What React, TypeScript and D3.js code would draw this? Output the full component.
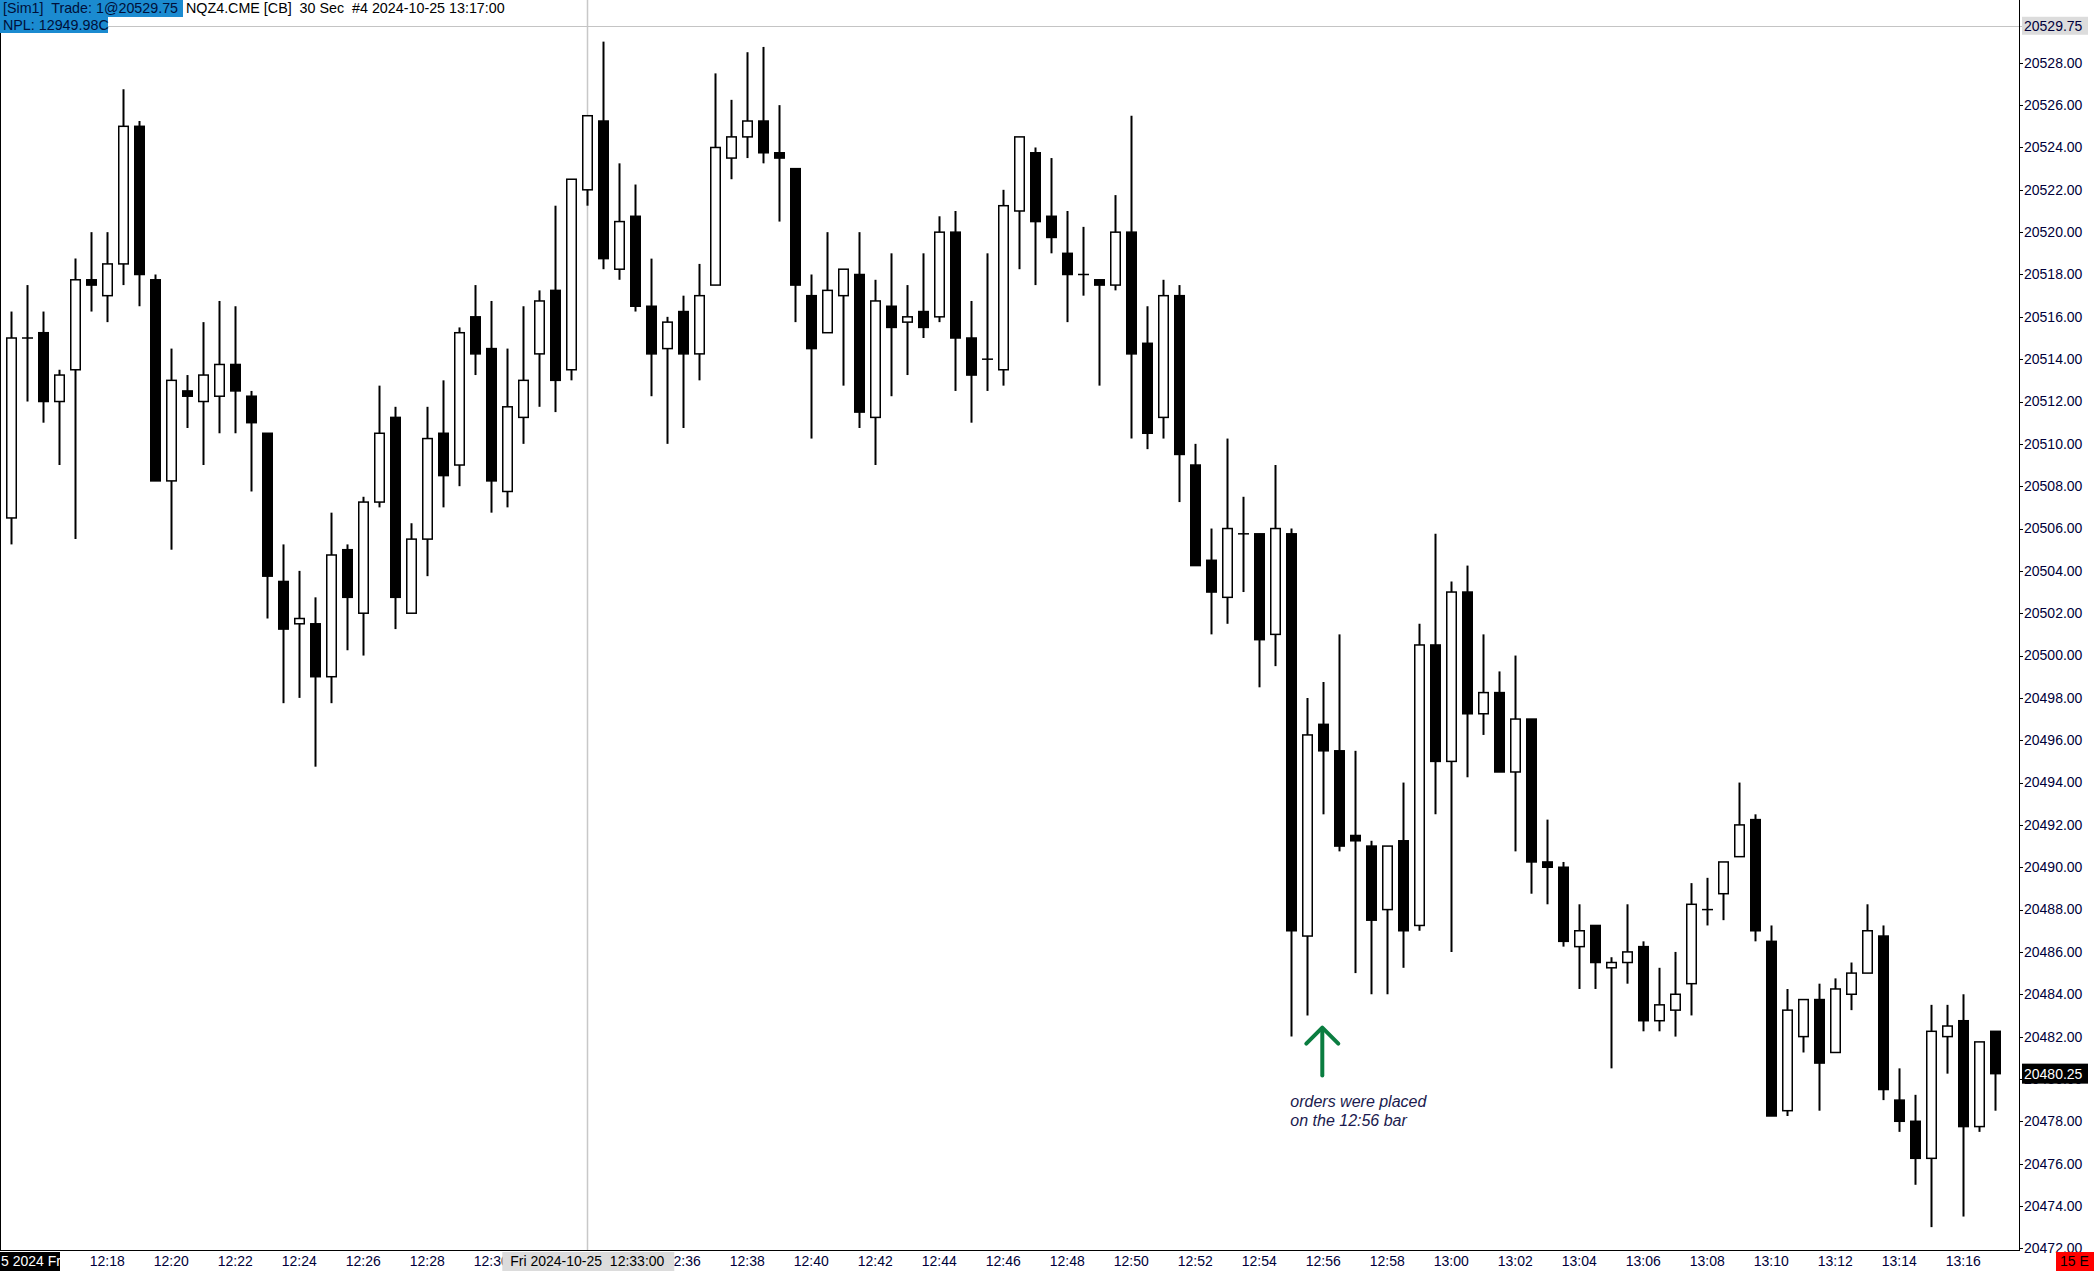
import React from "react";
import * as d3 from "d3";

// ---- data (30 sec bars, NQZ4, 12:15:00 .. 13:17:00) ----
const OPEN = [
  20506.5, 20515.0, 20515.25, 20512.0, 20513.5, 20517.75, 20517.0, 20518.5, 20525.0, 20517.75,
  20508.25, 20512.5, 20512.0, 20512.25, 20513.75, 20512.25, 20510.5, 20503.5, 20501.5, 20501.5,
  20499.0, 20505.0, 20502.0, 20507.25, 20511.25, 20502.0, 20505.5, 20510.5, 20509.0, 20516.0,
  20514.5, 20507.75, 20511.25, 20514.25, 20517.25, 20513.5, 20522.0, 20525.25, 20518.25, 20520.75,
  20516.5, 20514.5, 20516.25, 20514.25, 20517.5, 20523.5, 20524.5, 20525.25, 20523.75, 20523.0,
  20517.0, 20515.25, 20517.0, 20518.0, 20511.25, 20516.5, 20515.75, 20516.25, 20516.0, 20520.0,
  20515.0, 20514.0, 20513.5, 20521.0, 20523.75, 20520.75, 20519.0, 20518.0, 20517.75, 20517.5,
  20520.0, 20514.75, 20511.25, 20517.0, 20509.0, 20504.5, 20502.75, 20505.75, 20505.75, 20501.0,
  20505.75, 20486.75, 20496.75, 20495.5, 20491.5, 20491.0, 20488.0, 20491.25, 20487.25, 20500.5,
  20495.0, 20503.0, 20497.25, 20498.25, 20494.5, 20497.0, 20490.25, 20490.0, 20486.25, 20487.25,
  20485.25, 20485.5, 20486.25, 20482.75, 20483.25, 20484.5, 20488.0, 20488.75, 20490.5, 20492.25,
  20486.5, 20478.5, 20482.0, 20483.75, 20481.25, 20484.0, 20485.0, 20486.75, 20479.0, 20478.0,
  20476.25, 20482.0, 20482.75, 20477.75, 20482.25,
];
const HIGH = [
  20516.25, 20517.5, 20516.25, 20513.5, 20518.75, 20520.0, 20520.0, 20526.75, 20525.25, 20518.0,
  20514.5, 20513.25, 20515.75, 20516.75, 20516.5, 20512.5, 20510.5, 20505.25, 20504.0, 20502.75,
  20506.75, 20505.25, 20507.5, 20512.75, 20511.75, 20506.25, 20511.75, 20513.0, 20515.5, 20517.5,
  20516.75, 20514.5, 20516.5, 20517.25, 20521.25, 20522.5, 20525.5, 20529.0, 20523.25, 20522.25,
  20518.75, 20516.0, 20517.0, 20518.5, 20527.5, 20526.25, 20528.5, 20528.75, 20526.0, 20523.0,
  20518.0, 20520.0, 20518.25, 20520.0, 20517.75, 20519.0, 20517.5, 20519.0, 20520.75, 20521.0,
  20516.75, 20519.0, 20522.0, 20524.5, 20524.0, 20523.5, 20521.0, 20520.25, 20517.75, 20521.75,
  20525.5, 20516.5, 20517.75, 20517.5, 20510.0, 20506.0, 20510.25, 20507.5, 20505.75, 20509.0,
  20506.0, 20498.0, 20498.75, 20501.0, 20495.5, 20491.25, 20491.0, 20494.0, 20501.5, 20505.75,
  20503.5, 20504.25, 20501.0, 20499.25, 20500.0, 20497.0, 20492.25, 20490.25, 20488.25, 20487.25,
  20485.75, 20488.25, 20486.5, 20485.25, 20486.0, 20489.25, 20489.5, 20490.25, 20494.0, 20492.5,
  20487.25, 20484.25, 20483.75, 20484.5, 20484.75, 20485.5, 20488.25, 20487.25, 20480.5, 20479.25,
  20483.5, 20483.5, 20484.0, 20481.75, 20482.25,
];
const LOW = [
  20505.25, 20512.0, 20511.0, 20509.0, 20505.5, 20516.25, 20515.75, 20517.5, 20516.5, 20508.25,
  20505.0, 20510.75, 20509.0, 20510.5, 20510.5, 20507.75, 20501.75, 20497.75, 20498.0, 20494.75,
  20497.75, 20500.25, 20500.0, 20507.0, 20501.25, 20502.0, 20503.75, 20507.0, 20508.0, 20513.25,
  20506.75, 20507.0, 20510.0, 20511.75, 20511.5, 20513.0, 20521.25, 20518.25, 20517.75, 20516.25,
  20512.25, 20510.0, 20510.75, 20513.0, 20517.5, 20522.5, 20523.5, 20523.25, 20520.5, 20515.75,
  20510.25, 20515.25, 20512.75, 20510.75, 20509.0, 20512.25, 20513.25, 20515.0, 20515.75, 20512.5,
  20511.0, 20512.5, 20512.75, 20518.25, 20517.5, 20519.0, 20515.75, 20517.0, 20512.75, 20517.25,
  20510.25, 20509.75, 20510.25, 20507.25, 20504.25, 20501.0, 20501.5, 20503.0, 20498.5, 20499.5,
  20482.0, 20483.0, 20492.5, 20490.75, 20485.0, 20484.0, 20484.0, 20485.25, 20487.0, 20492.5,
  20486.0, 20494.25, 20496.25, 20494.5, 20490.75, 20488.75, 20488.25, 20486.25, 20484.25, 20484.25,
  20480.5, 20484.5, 20482.25, 20482.25, 20482.0, 20483.0, 20487.25, 20487.5, 20490.5, 20486.5,
  20478.25, 20478.25, 20481.25, 20478.5, 20481.25, 20483.25, 20485.0, 20479.0, 20477.5, 20475.0,
  20473.0, 20480.25, 20473.5, 20477.5, 20478.5,
];
const CLOSE = [
  20515.0, 20515.0, 20512.0, 20513.25, 20517.75, 20517.5, 20518.5, 20525.0, 20518.0, 20508.25,
  20513.0, 20512.25, 20513.25, 20513.75, 20512.5, 20511.0, 20503.75, 20501.25, 20501.75, 20499.0,
  20504.75, 20502.75, 20507.25, 20510.5, 20502.75, 20505.5, 20510.25, 20508.5, 20515.25, 20514.25,
  20508.25, 20511.75, 20513.0, 20516.75, 20513.0, 20522.5, 20525.5, 20518.75, 20520.5, 20516.5,
  20514.25, 20515.75, 20514.25, 20517.0, 20524.0, 20524.5, 20525.25, 20523.75, 20523.5, 20517.5,
  20514.5, 20517.25, 20518.25, 20511.5, 20516.75, 20515.5, 20516.0, 20515.5, 20520.0, 20515.0,
  20513.25, 20514.0, 20521.25, 20524.5, 20520.5, 20519.75, 20518.0, 20518.0, 20517.5, 20520.0,
  20514.25, 20510.5, 20517.0, 20509.5, 20504.25, 20503.0, 20506.0, 20505.75, 20500.75, 20506.0,
  20487.0, 20496.25, 20495.5, 20491.0, 20491.25, 20487.5, 20491.0, 20487.0, 20500.5, 20495.0,
  20503.0, 20497.25, 20498.25, 20494.5, 20497.0, 20490.25, 20490.0, 20486.5, 20487.0, 20485.5,
  20485.5, 20486.0, 20482.75, 20483.5, 20484.0, 20488.25, 20488.0, 20490.25, 20492.0, 20487.0,
  20478.25, 20483.25, 20483.75, 20480.75, 20484.25, 20485.0, 20487.0, 20479.5, 20478.0, 20476.25,
  20482.25, 20482.5, 20477.75, 20481.75, 20480.25,
];

const TIME_LABELS = [
  "12:18", "12:20", "12:22", "12:24", "12:26", "12:28", "12:30", "12:32", "12:34", "12:36",
  "12:38", "12:40", "12:42", "12:44", "12:46", "12:48", "12:50", "12:52", "12:54", "12:56",
  "12:58", "13:00", "13:02", "13:04", "13:06", "13:08", "13:10", "13:12", "13:14", "13:16",
];
const TIME_LABEL_BARS = TIME_LABELS.map((_, k) => 6 + 4 * k);
const PRICE_TICKS = d3.range(20472, 20529, 2);
const LAST_TRADE = 20529.75;
const LAST_PRICE = 20480.25;
const CROSSHAIR_BAR = 36;
const CROSSHAIR_LABEL = "Fri 2024-10-25  12:33:00";
const HEADER_1A = "[Sim1]  Trade: 1@20529.75";
const HEADER_1B = "NQZ4.CME [CB]  30 Sec  #4 2024-10-25 13:17:00";
const HEADER_2 = "NPL: 12949.98C";
const NOTE_BAR = 82;
const NOTE_LINES = ["orders were placed", "on the 12:56 bar"];

const W = 2094;
const H = 1271;
const AXIS_X = 2019;
const PLOT_BOTTOM = 1250;
const FONT = "Arial, 'Liberation Sans', sans-serif";
const LABEL_COLOR = "#00003a";

export default function App() {
  const n = OPEN.length;
  const x = d3.scaleLinear().domain([0, n - 1]).range([11.3, 11.3 + 16 * (n - 1)]);
  const y = d3.scaleLinear().domain([20528, 20472]).range([62.8, 1248.3]);
  const bw = 11;

  const fmt = d3.format(".2f");

  const candles = d3.range(n).map((i) => {
    const o = OPEN[i], c = CLOSE[i], h = HIGH[i], l = LOW[i];
    const cx = Math.round(x(i)) + 0.5;
    const top = y(Math.max(o, c));
    const bot = y(Math.min(o, c));
    const up = c > o;
    const flat = c === o;
    return (
      <g key={i}>
        <line x1={cx} x2={cx} y1={y(h)} y2={y(l)} stroke="#000" strokeWidth={2} />
        {flat ? (
          <line x1={cx - bw / 2} x2={cx + bw / 2} y1={top} y2={top} stroke="#000" strokeWidth={1.5} />
        ) : (
          <rect
            x={cx - bw / 2 + 0.75}
            y={top}
            width={bw - 1.5}
            height={Math.max(bot - top, 1)}
            fill={up ? "#fff" : "#000"}
            stroke="#000"
            strokeWidth={1.5}
          />
        )}
      </g>
    );
  });

  const nx = x(NOTE_BAR) - 1;
  const noteTop = y(LOW[NOTE_BAR - 2]) - 10;

  return (
    <svg
      width={W}
      height={H}
      viewBox={`0 0 ${W} ${H}`}
      style={{ position: "fixed", left: 0, top: 0, background: "#fff" }}
      fontFamily={FONT}
    >
      <rect x={0} y={0} width={W} height={H} fill="#fff" />
      {/* crosshair vertical */}
      <line x1={Math.round(x(CROSSHAIR_BAR)) + 0.5} x2={Math.round(x(CROSSHAIR_BAR)) + 0.5} y1={0} y2={PLOT_BOTTOM} stroke="#c8c8c8" strokeWidth={1.5} />
      {/* last trade line */}
      <line x1={0} x2={AXIS_X + 4} y1={Math.round(y(LAST_TRADE)) + 0.5} y2={Math.round(y(LAST_TRADE)) + 0.5} stroke="#c4c4c4" strokeWidth={1} />

      {candles}

      {/* annotation */}
      <g stroke="#0a7d40" strokeWidth={4} fill="none" strokeLinecap="round" strokeLinejoin="round">
        <line x1={nx} x2={nx} y1={noteTop + 49} y2={noteTop + 2} />
        <polyline points={`${nx - 16},${noteTop + 17} ${nx},${noteTop + 1} ${nx + 16},${noteTop + 17}`} />
      </g>
      {NOTE_LINES.map((t, k) => (
        <text key={t} x={nx - 32} y={noteTop + 80 + k * 19} fontSize={16} fontStyle="italic" fill="#1a1a4e">
          {t}
        </text>
      ))}

      {/* frame */}
      <line x1={0.5} x2={0.5} y1={0} y2={PLOT_BOTTOM} stroke="#000" strokeWidth={1} />
      <line x1={0} x2={AXIS_X} y1={PLOT_BOTTOM + 0.5} y2={PLOT_BOTTOM + 0.5} stroke="#000" strokeWidth={1} />
      <line x1={AXIS_X + 0.5} x2={AXIS_X + 0.5} y1={0} y2={PLOT_BOTTOM + 1} stroke="#000" strokeWidth={1} />

      {/* price axis */}
      {PRICE_TICKS.map((p) => (
        <g key={p}>
          <line x1={AXIS_X} x2={AXIS_X + 4} y1={Math.round(y(p)) + 0.5} y2={Math.round(y(p)) + 0.5} stroke="#000" />
          <text x={AXIS_X + 5} y={y(p)} dy="0.35em" fontSize={14} fill={LABEL_COLOR}>
            {fmt(p)}
          </text>
        </g>
      ))}
      <rect x={AXIS_X + 3} y={y(LAST_TRADE) - 9} width={66} height={18} fill="#dcdcdc" />
      <text x={AXIS_X + 5} y={y(LAST_TRADE)} dy="0.35em" fontSize={14} fill={LABEL_COLOR}>
        {fmt(LAST_TRADE)}
      </text>
      <rect x={AXIS_X + 3} y={y(LAST_PRICE) - 10} width={66} height={20} fill="#000" />
      <text x={AXIS_X + 5} y={y(LAST_PRICE)} dy="0.35em" fontSize={14} fill="#fff">
        {fmt(LAST_PRICE)}
      </text>

      {/* time axis */}
      {TIME_LABELS.map((t, k) => (
        <text key={t} x={x(TIME_LABEL_BARS[k])} y={1266} textAnchor="middle" fontSize={14} fill={LABEL_COLOR}>
          {t}
        </text>
      ))}
      <rect x={x(CROSSHAIR_BAR) - 85} y={PLOT_BOTTOM + 2} width={172} height={H - PLOT_BOTTOM - 2} fill="#dcdcdc" />
      <text x={x(CROSSHAIR_BAR)} y={1266} textAnchor="middle" fontSize={14} fill="#000" style={{ whiteSpace: "pre" }}>
        {CROSSHAIR_LABEL}
      </text>
      <rect x={0} y={PLOT_BOTTOM + 2} width={60} height={H - PLOT_BOTTOM - 2} fill="#000" />
      <text x={1} y={1266} fontSize={14} fill="#fff">5 2024 Fr</text>
      <rect x={2056} y={PLOT_BOTTOM + 2} width={W - 2056} height={H - PLOT_BOTTOM - 2} fill="#ff0000" />
      <text x={2060} y={1266} fontSize={14} fill="#000" style={{ whiteSpace: "pre" }}>15 E</text>

      {/* header */}
      <rect x={0} y={0} width={183} height={17} fill="#1b8bd0" />
      <rect x={0} y={17} width={108} height={16} fill="#1b8bd0" />
      <text x={3} y={13} fontSize={14.3} fill="#00103a" style={{ whiteSpace: "pre" }}>
        {HEADER_1A}
      </text>
      <text x={186} y={13} fontSize={14.3} fill="#000" style={{ whiteSpace: "pre" }}>
        {HEADER_1B}
      </text>
      <text x={3} y={30} fontSize={14.3} fill="#00103a">{HEADER_2}</text>
    </svg>
  );
}
